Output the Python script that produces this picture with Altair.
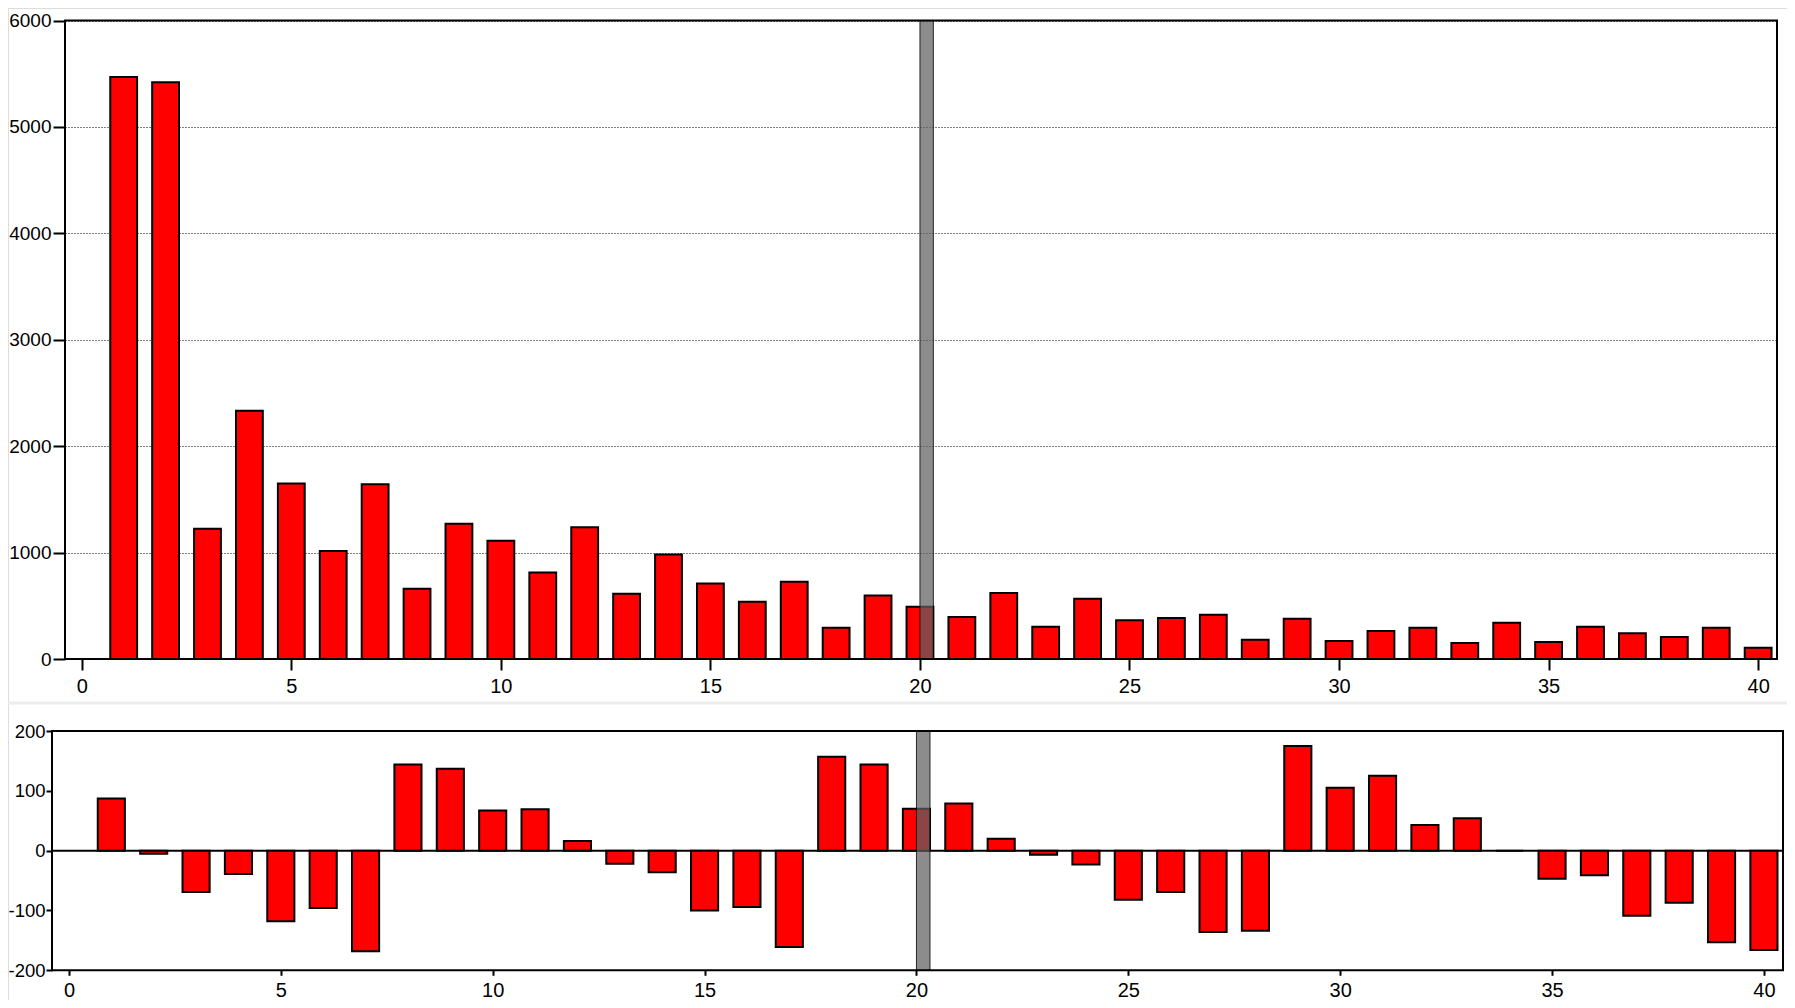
import altair as alt
import pandas as pd

# ---- data ----
bins = list(range(1, 41))
top_values = [5470, 5420, 1225, 2333, 1649, 1016, 1641, 659, 1271, 1112,
              814, 1238, 613, 982, 709, 537, 726, 294, 596, 491,
              394, 621, 302, 567, 365, 386, 415, 180, 378, 168,
              264, 294, 151, 340, 159, 302, 243, 206, 294, 105]
diff_values = [87, -5, -69, -39, -118, -96, -168, 144, 137, 67,
               69, 16, -22, -36, -100, -94, -161, 157, 144, 70,
               79, 20, -7, -23, -82, -69, -136, -134, 175, 105,
               125, 43, 54, 0, -47, -41, -109, -87, -153, -166]
x_ticks = [0, 5, 10, 15, 20, 25, 30, 35, 40]
top_y_ticks = [0, 1000, 2000, 3000, 4000, 5000, 6000]
bot_y_ticks = [-200, -100, 0, 100, 200]
x_domain = [-0.4, 40.45]
top_y_domain = [0, 6000]
bot_y_domain = [-200, 200]
band = [20.0, 20.32]

df = pd.DataFrame({"i": bins, "top": top_values, "diff": diff_values})
one = pd.DataFrame({"k": [0]})

W, H = 1779, 992
FONT = "Liberation Sans"
HALF = 0.32

# ---- scales / axes ----
xs_top = alt.Scale(domain=x_domain, range=[57, 1769], nice=False, zero=False)
ys_top = alt.Scale(domain=top_y_domain, range=[651, 12.5], nice=False, zero=False)
xs_bot = alt.Scale(domain=x_domain, range=[44, 1775], nice=False, zero=False)
ys_bot = alt.Scale(domain=bot_y_domain, range=[962.3, 723], nice=False, zero=False)

ax_top_x = alt.Axis(orient="bottom", offset=651 - H, values=x_ticks, title=None,
                    domain=False, grid=False, tickSize=11, tickWidth=2, tickColor="black",
                    labelFontSize=20, labelFont=FONT, labelColor="black",
                    labelPadding=6, labelFlush=False, format="d")
ax_top_y = alt.Axis(orient="left", offset=-57, values=top_y_ticks, title=None,
                    domain=False, grid=True, gridDash=[1, 2], gridColor="black",
                    gridWidth=1, gridOpacity=1, tickSize=12, tickWidth=2, tickColor="black",
                    labelFontSize=19, labelFont=FONT, labelColor="black",
                    labelPadding=2, format="d")
ax_bot_x = alt.Axis(orient="bottom", offset=962.3 - H, values=x_ticks, title=None,
                    domain=False, grid=False, tickSize=5, tickWidth=2, tickColor="black",
                    labelFontSize=20, labelFont=FONT, labelColor="black",
                    labelPadding=5, labelFlush=False, format="d")
ax_bot_y = alt.Axis(orient="left", offset=-44, values=bot_y_ticks, title=None,
                    domain=False, grid=False, tickSize=6, tickWidth=2, tickColor="black",
                    labelFontSize=18.5, labelFont=FONT, labelColor="black",
                    labelPadding=1,
                    labelExpr="datum.value < 0 ? '-' + abs(datum.value) : '' + datum.value")

# ---- top panel ----
base = alt.Chart(df).transform_calculate(x0=f"datum.i - {HALF}", x1=f"datum.i + {HALF}")

top_bars = base.mark_rect(fill="#ff0000", stroke="black", strokeWidth=2).encode(
    x=alt.X("x0:Q", scale=xs_top, axis=ax_top_x),
    x2="x1:Q",
    y=alt.Y("top:Q", scale=ys_top, axis=ax_top_y),
    y2=alt.Y2Datum(0),
)
top_band = alt.Chart(one).mark_rect(fill="#606060", fillOpacity=0.72, stroke="black",
                                    strokeOpacity=0.8, strokeWidth=1).encode(
    x=alt.XDatum(band[0], scale=xs_top, axis=ax_top_x),
    x2=alt.X2Datum(band[1]),
    y=alt.YDatum(top_y_domain[1], scale=ys_top, axis=ax_top_y),
    y2=alt.Y2Datum(top_y_domain[0]),
)
top_frame = alt.Chart(one).mark_rect(fill=None, fillOpacity=0, stroke="black", strokeWidth=2).encode(
    x=alt.XDatum(x_domain[0], scale=xs_top, axis=ax_top_x),
    x2=alt.X2Datum(x_domain[1]),
    y=alt.YDatum(top_y_domain[1], scale=ys_top, axis=ax_top_y),
    y2=alt.Y2Datum(top_y_domain[0]),
)
top = alt.layer(top_bars, top_band, top_frame)

# ---- bottom panel ----
bot_zero = alt.Chart(one).mark_rule(color="black", strokeWidth=2).encode(
    x=alt.XDatum(x_domain[0], scale=xs_bot, axis=ax_bot_x),
    x2=alt.X2Datum(x_domain[1]),
    y=alt.YDatum(0, scale=ys_bot, axis=ax_bot_y),
)
bot_bars = base.mark_rect(fill="#ff0000", stroke="black", strokeWidth=2).encode(
    x=alt.X("x0:Q", scale=xs_bot, axis=ax_bot_x),
    x2="x1:Q",
    y=alt.Y("diff:Q", scale=ys_bot, axis=ax_bot_y),
    y2=alt.Y2Datum(0),
)
bot_band = alt.Chart(one).mark_rect(fill="#606060", fillOpacity=0.72, stroke="black",
                                    strokeOpacity=0.8, strokeWidth=1).encode(
    x=alt.XDatum(band[0], scale=xs_bot, axis=ax_bot_x),
    x2=alt.X2Datum(band[1]),
    y=alt.YDatum(bot_y_domain[1], scale=ys_bot, axis=ax_bot_y),
    y2=alt.Y2Datum(bot_y_domain[0]),
)
bot_frame = alt.Chart(one).mark_rect(fill=None, fillOpacity=0, stroke="black", strokeWidth=2).encode(
    x=alt.XDatum(x_domain[0], scale=xs_bot, axis=ax_bot_x),
    x2=alt.X2Datum(x_domain[1]),
    y=alt.YDatum(bot_y_domain[1], scale=ys_bot, axis=ax_bot_y),
    y2=alt.Y2Datum(bot_y_domain[0]),
)
bottom = alt.layer(bot_zero, bot_bars, bot_band, bot_frame)

# ---- panel separator ----
separator = alt.Chart(one).mark_rule(color="#ececec", strokeWidth=3).encode(
    x=alt.value(0), x2=alt.value(W), y=alt.value(695)
)

chart = (
    alt.layer(separator, top, bottom)
    .resolve_scale(x="independent", y="independent")
    .properties(width=W, height=H, padding=0, autosize=alt.AutoSizeParams(type="none"))
    .configure_view(stroke="#8a8a8a", strokeWidth=2)
    .configure(background="white")
)

chart.save("out.html", embed_options={"renderer": "svg", "actions": False})
